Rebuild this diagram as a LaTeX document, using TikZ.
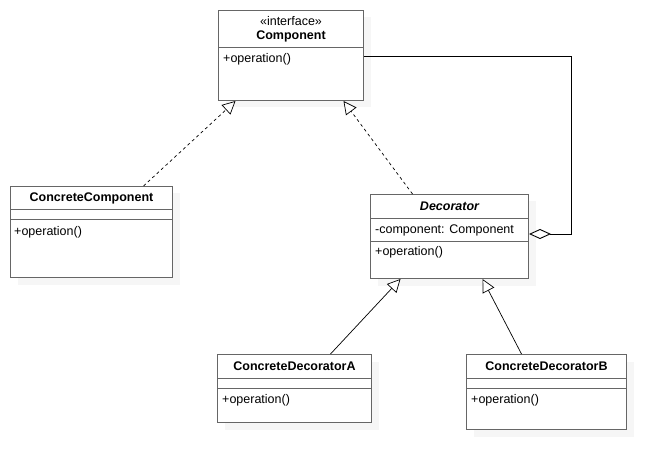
\documentclass[tikz,border=0pt]{standalone}
\usepackage{fontspec}
\setmainfont{Liberation Sans}
\usepackage{xcolor}
\usepackage{tikz}
\usetikzlibrary{arrows.meta, positioning, calc, shadows}
\definecolor{BoxGray}{rgb}{0.40, 0.40, 0.40}

\begin{document}
\begin{tikzpicture}[x=1pt, y=-1pt,
    cls/.style={draw=BoxGray, line width=1pt, fill=white, anchor=north west, inner sep=0pt,
      drop shadow={shadow xshift=7pt, shadow yshift=-7pt, fill=black!7}},
    txt/.style={inner sep=0pt, font=\fontsize{12.5}{14}\selectfont},
    sep/.style={draw=BoxGray, line width=1pt},
    realize/.style={black, line width=0.7pt, dash pattern=on 3pt off 3pt,
      -{Triangle[open, length=13pt, width=13pt, fill=white]}},
    inherit/.style={black, line width=0.7pt, -{Triangle[open, length=13pt, width=13pt, fill=white]}},
    aggr/.style={black, line width=0.9pt, {Diamond[open, length=22pt, width=10pt, fill=white]}-}]
        \useasboundingbox (0,0) rectangle (666,470);
        % Class boxes
        \node [cls, minimum width=145pt, minimum height=90pt] (comp) at (218,10) {};
        \node [cls, minimum width=162pt, minimum height=91pt] (ccomp) at (10,186) {};
        \node [cls, minimum width=158pt, minimum height=84pt] (deco) at (370,194) {};
        \node [cls, minimum width=154pt, minimum height=68pt] (cdecA) at (217,354) {};
        \node [cls, minimum width=160pt, minimum height=75pt] (cdecB) at (466,354) {};
        % Compartment lines
        \draw [sep] ([yshift=-38pt]comp.north west) -- ([yshift=-38pt]comp.north east);
        \foreach \b in {ccomp, cdecA, cdecB} {
            \draw [sep] ([yshift=-24pt]\b.north west) -- ([yshift=-24pt]\b.north east);
            \draw [sep] ([yshift=-34pt]\b.north west) -- ([yshift=-34pt]\b.north east);
        }
        \draw [sep] ([yshift=-25pt]deco.north west) -- ([yshift=-25pt]deco.north east);
        \draw [sep] ([yshift=-48pt]deco.north west) -- ([yshift=-48pt]deco.north east);
        % Class texts
        \node [txt] (compStereo) at ([yshift=-11pt]comp.north) {«interface»};
        \node [txt, font=\fontsize{12.5}{14}\selectfont\bfseries] (compName) at ([yshift=-26pt]comp.north) {Component};
        \node [txt, anchor=west] (compOp) at ([xshift=5pt, yshift=-49pt]comp.north west) {+operation()};
        \node [txt, font=\fontsize{12.5}{14}\selectfont\bfseries] (ccompName) at ([yshift=-12pt]ccomp.north) {ConcreteComponent};
        \node [txt, anchor=west] (ccompOp) at ([xshift=4pt, yshift=-46pt]ccomp.north west) {+operation()};
        \node [txt, font=\fontsize{12.5}{14}\selectfont\bfseries\itshape] (decoName) at ([yshift=-12pt]deco.north) {Decorator};
        \node [txt, anchor=west] (decoAttr) at ([xshift=5pt, yshift=-36pt]deco.north west) {-component: Component};
        \node [txt, anchor=west] (decoOp) at ([xshift=5pt, yshift=-58pt]deco.north west) {+operation()};
        \node [txt, font=\fontsize{12.5}{14}\selectfont\bfseries] (cdecAName) at ([yshift=-12pt]cdecA.north) {ConcreteDecoratorA};
        \node [txt, anchor=west] (cdecAOp) at ([xshift=5pt, yshift=-46pt]cdecA.north west) {+operation()};
        \node [txt, font=\fontsize{12.5}{14}\selectfont\bfseries] (cdecBName) at ([yshift=-12pt]cdecB.north) {ConcreteDecoratorB};
        \node [txt, anchor=west] (cdecBOp) at ([xshift=5pt, yshift=-46pt]cdecB.north west) {+operation()};
        % Realization of the interface
        \draw [realize] ([xshift=52pt]ccomp.north) -- ([xshift=-55.5pt]comp.south);
        \draw [realize] ([xshift=-37pt]deco.north) -- ([xshift=52.5pt]comp.south);
        % Inheritance from the decorator
        \draw [inherit] ([xshift=36pt]cdecA.north) -- ([xshift=-49pt]deco.south);
        \draw [inherit] ([xshift=-25pt]cdecB.north) -- ([xshift=33pt]deco.south);
        % Aggregation of the wrapped component
        \draw [aggr] ([yshift=-40pt]deco.north east) -- ++(42,0) |- ([yshift=-46pt]comp.north east);
    \end{tikzpicture}
\end{document}
